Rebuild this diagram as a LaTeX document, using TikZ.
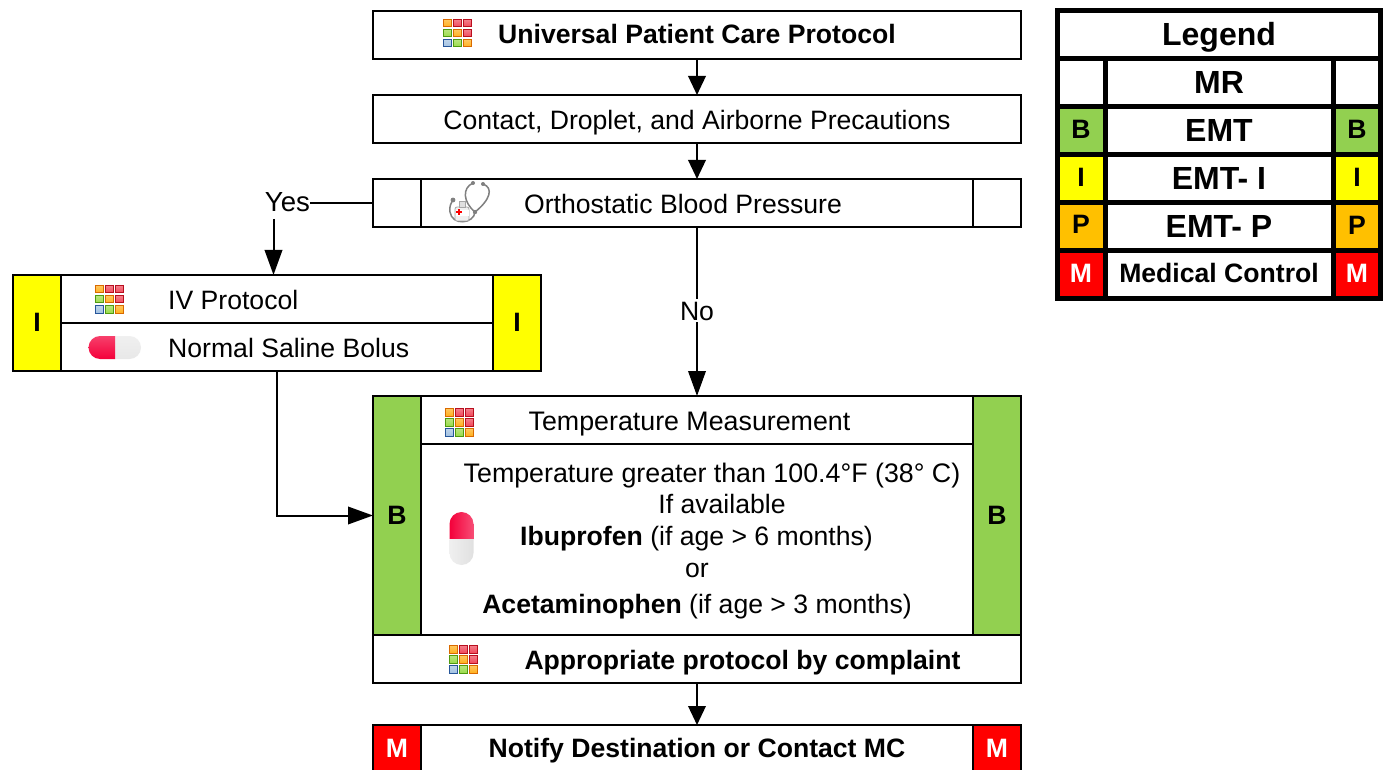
\documentclass[tikz,border=0pt]{standalone}
\usepackage{fontspec}
\setmainfont{Liberation Sans}
\usetikzlibrary{arrows.meta}
\definecolor{cB}{HTML}{92D050}
\definecolor{cI}{HTML}{FFFF00}
\definecolor{cP}{HTML}{FFC000}
\definecolor{cM}{HTML}{FF0000}
\definecolor{gO}{HTML}{FFB01E}
\definecolor{gOd}{HTML}{D96A00}
\definecolor{gR}{HTML}{F0485A}
\definecolor{gRd}{HTML}{B80F1E}
\definecolor{gG}{HTML}{9ADB4A}
\definecolor{gGd}{HTML}{4F9A10}
\definecolor{gL}{HTML}{A3C2E2}
\definecolor{gLd}{HTML}{27569A}
\definecolor{pillR}{HTML}{F4003A}
\tikzset{
  box/.style={draw=black,line width=2.6pt,fill=white,rectangle,inner sep=0pt,outer sep=0pt},
  lbox/.style={draw=black,line width=5pt,fill=white,rectangle,inner sep=0pt,outer sep=0pt},
  txt/.style={anchor=base,inner sep=0pt,font=\fontsize{26.6}{30}\selectfont},
  wtxt/.style={anchor=base,inner sep=0pt,font=\fontsize{26.8}{30}\selectfont},
  btxt/.style={anchor=base,inner sep=0pt,font=\fontsize{26.6}{30}\selectfont\bfseries},
  ltxt/.style={anchor=base,inner sep=0pt,font=\fontsize{32}{36}\selectfont\bfseries},
  conn/.style={draw=black,line width=2pt},
  arr/.style={conn,-{Triangle[width=17.5pt,length=19pt]}},
  larr/.style={conn,-{Triangle[width=17.5pt,length=25pt]}},
  sq/.style={line width=0.8pt}
}
\newcommand{\gridsq}[4]{\path[sq,draw=#4d,top color=#4!70!white,bottom color=#4] (#1+0.3,#2+0.3) rectangle ++(7.6,7.6);}
\newcommand{\gridicon}[2]{%
 \begin{scope}[shift={(#1,#2)}]
 \gridsq{0}{0}{}{gO}\gridsq{10}{0}{}{gR}\gridsq{20}{0}{}{gR}
 \gridsq{0}{10}{}{gG}\gridsq{10}{10}{}{gO}\gridsq{20}{10}{}{gR}
 \gridsq{0}{20}{}{gL}\gridsq{10}{20}{}{gG}\gridsq{20}{20}{}{gO}
 \end{scope}}
\begin{document}
\begin{tikzpicture}[x=1pt,y=-1pt]
\clip (0,0) rectangle (1385,770);
\fill[white] (0,0) rectangle (1385,770);
% main boxes
\node[box,minimum width=648pt,minimum height=48pt] (upc) at (697,35) {};
\node[box,minimum width=648pt,minimum height=48pt] (cda) at (697,119) {};
\node[box,minimum width=648pt,minimum height=48pt] (orth) at (697,203) {};
\node[box,minimum width=48pt,minimum height=48pt] (orthL) at (397,203) {};
\node[box,minimum width=48pt,minimum height=48pt] (orthR) at (997,203) {};
% IV
\node[box,minimum width=528pt,minimum height=96pt] (iv) at (277,323) {};
\node[box,fill=cI,minimum width=48pt,minimum height=96pt] (ivL) at (37,323) {};
\node[box,fill=cI,minimum width=48pt,minimum height=96pt] (ivR) at (517,323) {};
\node[box,minimum width=432pt,minimum height=48pt] (ivTop) at (277,299) {};
\node[box,minimum width=432pt,minimum height=48pt] (ivBot) at (277,347) {};
% Temperature
\node[box,minimum width=648pt,minimum height=239pt] (temp) at (697,515.5) {};
\node[box,fill=cB,minimum width=48pt,minimum height=239pt] (tempL) at (397,515.5) {};
\node[box,fill=cB,minimum width=48pt,minimum height=239pt] (tempR) at (997,515.5) {};
\node[box,minimum width=552pt,minimum height=48pt] (tempTop) at (697,420) {};
\node[box,minimum width=648pt,minimum height=48pt] (appr) at (697,659) {};
% Notify
\node[box,minimum width=648pt,minimum height=52pt] (notify) at (697,751) {};
\node[box,fill=cM,minimum width=48pt,minimum height=52pt] (notifyL) at (397,751) {};
\node[box,fill=cM,minimum width=48pt,minimum height=52pt] (notifyR) at (997,751) {};
% texts
\node[btxt] (t1) at (697,43.7) {Universal Patient Care Protocol};
\node[txt] (t2) at (697,129.7) {Contact, Droplet, and Airborne Precautions};
\node[txt] (t3) at (683,213.7) {Orthostatic Blood Pressure};
\node[txt,anchor=base west] (t4) at (168,309) {IV Protocol};
\node[txt,anchor=base west] (t5) at (168,357) {Normal Saline Bolus};
\node[btxt] (tiL) at (37,331) {I};
\node[btxt] (tiR) at (517,331) {I};
\node[wtxt] (t6) at (689.5,430) {Temperature Measurement};
\node[wtxt] (t7) at (712,482) {Temperature greater than 100.4°F (38° C)};
\node[txt] (t8) at (722,513) {If available};
\node[txt] (t9) at (696.5,545) {\textbf{Ibuprofen} (if age > 6 months)};
\node[txt] (t10) at (697,577) {or};
\node[txt] (t11) at (697,613) {\textbf{Acetaminophen} (if age > 3 months)};
\node[btxt] (tbL) at (397,524) {B};
\node[btxt] (tbR) at (997,524) {B};
\node[btxt] (t12) at (742.5,669) {Appropriate protocol by complaint};
\node[btxt] (t13) at (697,757) {Notify Destination or Contact MC};
\node[btxt,text=white] (tmL) at (397,757) {M};
\node[btxt,text=white] (tmR) at (997,757) {M};
% connector labels
\node[txt,font=\fontsize{27.6}{30}\selectfont] (yes) at (287.5,211.5) {Yes};
\node[txt,fill=white,inner sep=2pt] (no) at (697,320) {No};
\coordinate (ivin) at (273.5,275);
\coordinate (yesdown) at (273.5,219);
\coordinate (ivout) at (277,371);
\coordinate (tempin) at (697,396);
% connectors
\draw[arr] (upc.south) -- (cda.north);
\draw[arr] (cda.south) -- (orth.north);
\draw[conn] (orthL.west) -- (yes.east |- orthL.west);
\draw[larr] (yesdown) -- (ivin);
\draw[conn] (orth.south) -- (no.north);
\draw[larr] (no.south) -- (tempin);
\draw[larr] (ivout) |- (tempL.west);
\draw[arr] (appr.south) -- (notify.north);
% icons
\gridicon{443}{19}
\gridicon{95}{285}
\gridicon{445}{408}
\gridicon{449}{645}
% horizontal pill
\path[top color=black!6,bottom color=black!9] (115,336) -- (129.5,336) arc (-90:90:11.5) -- (115,359) -- cycle;
\path[top color=pillR!75!white,bottom color=pillR] (115,336) -- (100,336) arc (-90:-270:11.5) -- (115,359) -- cycle;
% vertical pill
\path[left color=pillR,right color=pillR!70!white] (449.5,539) -- (449.5,524) arc (180:360:12) -- (473.5,539) -- cycle;
\path[left color=black!6,right color=black!12] (449.5,539) -- (449.5,553) arc (180:0:12) -- (473.5,539) -- cycle;
% stethoscope
\draw[gray,line width=1.5pt] (473,183) .. controls (462,188) and (463,202) .. (475,212);
\draw[gray,line width=1.5pt] (483,184) .. controls (494,188) and (490,200) .. (475,212);
\draw[gray,line width=1.5pt] (475,212) .. controls (474,224) and (452,226) .. (450,212) .. controls (449,207) and (451,203) .. (453,200);
\fill[gray] (473,183) circle (2); \fill[gray] (483,184) circle (2);
\fill[gray] (453,200) circle (2.4); \fill[gray] (475,212) circle (2.2);
\draw[gray!70,fill=gray!12,line width=0.8pt,rounded corners=2pt] (455,207) rectangle (469,221);
\draw[gray!70,fill=gray!25,line width=0.8pt] (459,201) rectangle (465,207);
\fill[white] (455.5,210) rectangle (468.5,216);
\fill[cM] (456,211.2) rectangle (461.5,213);
\fill[cM] (458,209.2) rectangle (459.6,215);
% legend
\node[lbox,minimum width=323pt,minimum height=48pt] (lg) at (1219,34.5) {};
\node[lbox,minimum width=48pt,minimum height=48pt] (l1a) at (1081,82.5) {};
\node[lbox,minimum width=228pt,minimum height=48pt] (l1b) at (1219,82.5) {};
\node[lbox,minimum width=47pt,minimum height=48pt] (l1c) at (1357,82.5) {};
\node[lbox,fill=cB,minimum width=48pt,minimum height=48pt] (l2a) at (1081,130.5) {};
\node[lbox,minimum width=228pt,minimum height=48pt] (l2b) at (1219,130.5) {};
\node[lbox,fill=cB,minimum width=47pt,minimum height=48pt] (l2c) at (1357,130.5) {};
\node[lbox,fill=cI,minimum width=48pt,minimum height=48pt] (l3a) at (1081,178.5) {};
\node[lbox,minimum width=228pt,minimum height=48pt] (l3b) at (1219,178.5) {};
\node[lbox,fill=cI,minimum width=47pt,minimum height=48pt] (l3c) at (1357,178.5) {};
\node[lbox,fill=cP,minimum width=48pt,minimum height=48pt] (l4a) at (1081,226.5) {};
\node[lbox,minimum width=228pt,minimum height=48pt] (l4b) at (1219,226.5) {};
\node[lbox,fill=cP,minimum width=47pt,minimum height=48pt] (l4c) at (1357,226.5) {};
\node[lbox,fill=cM,minimum width=48pt,minimum height=48pt] (l5a) at (1081,274.5) {};
\node[lbox,minimum width=228pt,minimum height=48pt] (l5b) at (1219,274.5) {};
\node[lbox,fill=cM,minimum width=47pt,minimum height=48pt] (l5c) at (1357,274.5) {};
\node[ltxt] (lt0) at (1219,46) {Legend};
\node[ltxt] (lt1) at (1219,94) {MR};
\node[ltxt] (lt2) at (1219,142) {EMT};
\node[ltxt] (lt3) at (1219,190) {EMT- I};
\node[ltxt] (lt4) at (1219,238) {EMT- P};
\node[btxt] (lt5) at (1219,283) {Medical Control};
\node[btxt] (b1) at (1081,139) {B};
\node[btxt] (b2) at (1357,139) {B};
\node[btxt] (i1) at (1081,187) {I};
\node[btxt] (i2) at (1357,187) {I};
\node[btxt] (p1) at (1081,234) {P};
\node[btxt] (p2) at (1357,235) {P};
\node[btxt,text=white] (m1) at (1081,283) {M};
\node[btxt,text=white] (m2) at (1357,283) {M};
\end{tikzpicture}
\end{document}
